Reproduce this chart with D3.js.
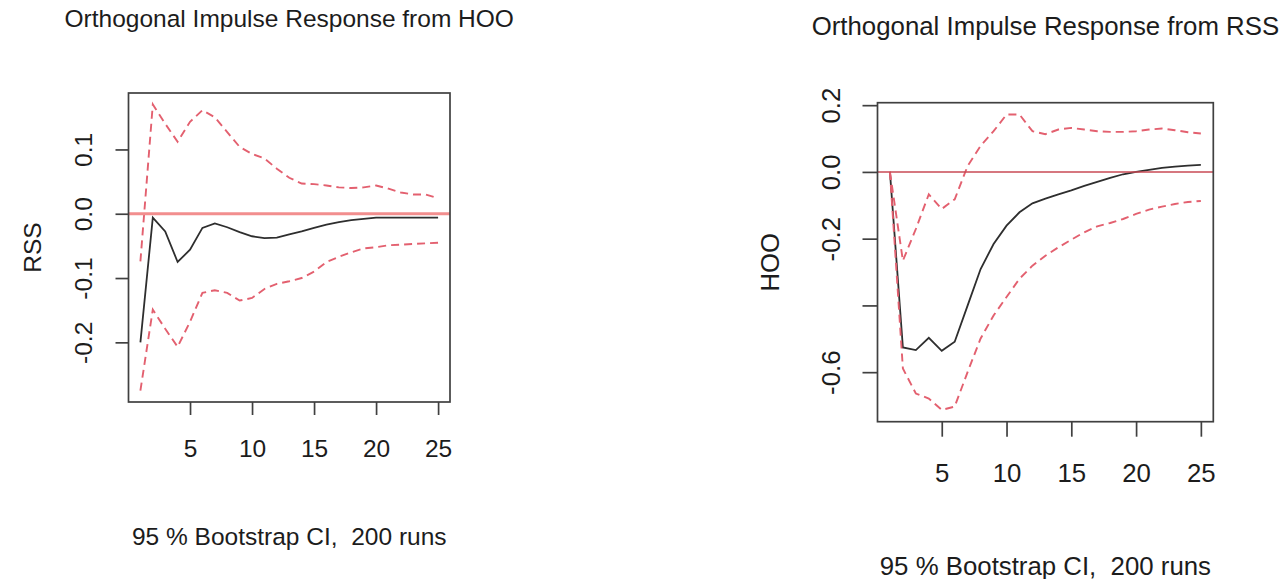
<!DOCTYPE html>
<html>
<head>
<meta charset="utf-8">
<script src="https://cdn.jsdelivr.net/npm/d3@7"></script>
<style>
	body { margin: 0; background: #fff; }
	svg { display: block; font-family: "Liberation Sans", Arial, sans-serif; }
	text { fill: #1c1c1c; white-space: pre; }
</style>
</head>
<body>
<svg id="chart"></svg>
<script>
const WIDTH = 1287;
const HEIGHT = 579;

// horizon (periods after the shock)
const steps = [1, 2, 3, 4, 5, 6, 7, 8, 9, 10, 11, 12, 13, 14, 15, 16, 17, 18, 19, 20, 21, 22, 23, 24, 25];
const xTicks = [5, 10, 15, 20, 25];

// response of RSS to a HOO shock
const irfRss = [-0.200, -0.006, -0.0275, -0.075, -0.056, -0.022, -0.015, -0.021, -0.0285, -0.035, -0.038, -0.037, -0.032, -0.0275, -0.022, -0.017, -0.013, -0.010, -0.008, -0.006, -0.006, -0.006, -0.006, -0.006, -0.006];
const upperRss = [-0.074, 0.170, 0.140, 0.112, 0.143, 0.161, 0.150, 0.127, 0.104, 0.093, 0.086, 0.070, 0.056, 0.047, 0.046, 0.044, 0.041, 0.040, 0.041, 0.044, 0.039, 0.033, 0.030, 0.030, 0.024];
const lowerRss = [-0.275, -0.149, -0.179, -0.207, -0.168, -0.123, -0.119, -0.123, -0.135, -0.131, -0.117, -0.109, -0.105, -0.100, -0.090, -0.075, -0.067, -0.060, -0.054, -0.052, -0.049, -0.048, -0.047, -0.046, -0.045];
const yTicksRss = [0.1, 0.0, -0.1, -0.2];
const yTickLabelsRss = ["0.1", "0.0", "-0.1", "-0.2"];

// response of HOO to an RSS shock
const irfHoo = [0, -0.526, -0.534, -0.497, -0.536, -0.509, -0.400, -0.291, -0.216, -0.161, -0.121, -0.094, -0.080, -0.067, -0.055, -0.042, -0.030, -0.018, -0.007, 0.000, 0.006, 0.012, 0.016, 0.019, 0.021];
const upperHoo = [0, -0.266, -0.171, -0.067, -0.111, -0.082, 0.018, 0.078, 0.122, 0.172, 0.172, 0.122, 0.113, 0.127, 0.132, 0.127, 0.122, 0.120, 0.120, 0.122, 0.127, 0.130, 0.125, 0.119, 0.115];
const lowerHoo = [0, -0.589, -0.664, -0.679, -0.713, -0.703, -0.599, -0.499, -0.430, -0.375, -0.320, -0.281, -0.251, -0.226, -0.203, -0.181, -0.163, -0.153, -0.141, -0.126, -0.113, -0.104, -0.096, -0.090, -0.087];
const yTicksHoo = [0.2, 0.0, -0.2, -0.4, -0.6];
const yTickLabelsHoo = ["0.2", "0.0", "-0.2", "", "-0.6"]; // R drops the -0.4 label

const footnote = "95 % Bootstrap CI,  200 runs";

const svg = d3.select("#chart")
	.attr("width", WIDTH)
	.attr("height", HEIGHT);

const panels = [
	{
		title: "Orthogonal Impulse Response from HOO",
		yLabel: "RSS",
		irf: irfRss, upper: upperRss, lower: lowerRss,
		yTicks: yTicksRss, yTickLabels: yTickLabelsRss,
		left: 128.5, right: 450, top: 93, bottom: 402,
		fontSize: 24.5, tickSize: 13,
		titleY: 27, xLabelY: 457, footY: 545, yTickX: 92, yLabelX: 41,
		zeroColor: "#f28e8e", zeroWidth: 2.8,
	},
	{
		title: "Orthogonal Impulse Response from RSS",
		yLabel: "HOO",
		irf: irfHoo, upper: upperHoo, lower: lowerHoo,
		yTicks: yTicksHoo, yTickLabels: yTickLabelsHoo,
		left: 877.5, right: 1213.3, top: 102.7, bottom: 421.7,
		fontSize: 25.8, tickSize: 15,
		titleY: 35, xLabelY: 482, footY: 575, yTickX: 840, yLabelX: 779,
		zeroColor: "#c94a55", zeroWidth: 1.5,
	},
];

function drawPanel(p) {
	const g = svg.append("g");
	const midX = (p.left + p.right) / 2;
	const midY = (p.top + p.bottom) / 2;

	// R style axes: extend the data range by 4% on each side
	const xExt = d3.extent(steps);
	const xPad = (xExt[1] - xExt[0]) * 0.04;
	const x = d3.scaleLinear([xExt[0] - xPad, xExt[1] + xPad], [p.left, p.right]);

	const yExt = d3.extent([...p.irf, ...p.upper, ...p.lower]);
	const yPad = (yExt[1] - yExt[0]) * 0.04;
	const y = d3.scaleLinear([yExt[0] - yPad, yExt[1] + yPad], [p.bottom, p.top]);

	const line = d3.line()
		.x((d, i) => x(steps[i]))
		.y(d => y(d));

	g.append("path")
		.attr("d", line(p.irf))
		.attr("fill", "none")
		.attr("stroke", "#2e2e2e")
		.attr("stroke-width", 1.8);

	g.selectAll(".ci")
		.data([p.upper, p.lower])
		.join("path")
		.classed("ci", true)
		.attr("d", d => line(d))
		.attr("fill", "none")
		.attr("stroke", "#e3606f")
		.attr("stroke-width", 1.9)
		.attr("stroke-dasharray", "8,5");

	g.append("line")
		.attr("x1", p.left)
		.attr("x2", p.right)
		.attr("y1", y(0))
		.attr("y2", y(0))
		.attr("stroke", p.zeroColor)
		.attr("stroke-width", p.zeroWidth);

	// box
	g.append("rect")
		.attr("x", p.left)
		.attr("y", p.top)
		.attr("width", p.right - p.left)
		.attr("height", p.bottom - p.top)
		.attr("fill", "none")
		.attr("stroke", "#404040")
		.attr("stroke-width", 1.7);

	const xAxis = g.append("g")
		.attr("transform", `translate(0,${p.bottom})`)
		.call(d3.axisBottom(x).tickValues(xTicks).tickSize(p.tickSize));
	xAxis.select(".domain").remove();
	xAxis.selectAll(".tick line").attr("stroke", "#404040").attr("stroke-width", 1.7);
	xAxis.selectAll(".tick text")
		.attr("y", p.xLabelY - p.bottom)
		.attr("dy", 0)
		.attr("font-size", p.fontSize)
		.attr("font-family", null)
		.attr("fill", null);

	const yAxis = g.append("g")
		.attr("transform", `translate(${p.left},0)`)
		.call(d3.axisLeft(y)
			.tickValues(p.yTicks)
			.tickFormat((d, i) => p.yTickLabels[i])
			.tickSize(p.tickSize));
	yAxis.select(".domain").remove();
	yAxis.selectAll(".tick line").attr("stroke", "#404040").attr("stroke-width", 1.7);
	yAxis.selectAll(".tick text")
		.attr("x", 0)
		.attr("dy", 0)
		.attr("text-anchor", "middle")
		.attr("transform", `translate(${p.yTickX - p.left},0) rotate(-90)`)
		.attr("font-size", p.fontSize)
		.attr("font-family", null)
		.attr("fill", null);

	g.append("text")
		.attr("x", midX)
		.attr("y", p.titleY)
		.attr("text-anchor", "middle")
		.attr("font-size", p.fontSize)
		.text(p.title);

	g.append("text")
		.attr("transform", `translate(${p.yLabelX},${midY}) rotate(-90)`)
		.attr("text-anchor", "middle")
		.attr("font-size", p.fontSize)
		.text(p.yLabel);

	g.append("text")
		.attr("x", midX)
		.attr("y", p.footY)
		.attr("text-anchor", "middle")
		.attr("font-size", p.fontSize)
		.text(footnote);
}

panels.forEach(drawPanel);
</script>
</body>
</html>
